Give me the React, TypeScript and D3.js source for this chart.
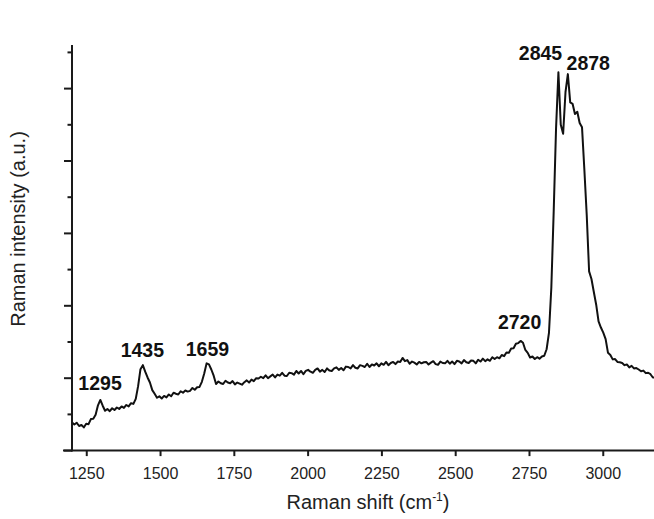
import React from 'react';
import * as d3 from 'd3';

const SHIFT_START = 1200;
const SHIFT_STEP = 8;
const intensities = [
  0.78, 0.72, 0.77, 0.68, 0.71, 0.64, 0.74, 0.73, 0.87, 0.88,
  0.99, 1.25, 1.40, 1.24, 1.10, 1.15, 1.09, 1.17, 1.12, 1.19,
  1.15, 1.22, 1.18, 1.26, 1.22, 1.31, 1.29, 1.43, 1.78, 2.25,
  2.36, 2.18, 2.02, 1.88, 1.67, 1.57, 1.46, 1.50, 1.44, 1.51,
  1.47, 1.55, 1.50, 1.60, 1.57, 1.55, 1.64, 1.60, 1.66, 1.63,
  1.65, 1.73, 1.68, 1.75, 1.76, 1.90, 2.13, 2.41, 2.38, 2.24,
  2.07, 1.84, 1.91, 1.86, 1.84, 1.93, 1.88, 1.86, 1.92, 1.83,
  1.88, 1.85, 1.82, 1.89, 1.94, 1.88, 1.96, 1.92, 2.00, 1.99,
  2.04, 2.00, 2.08, 2.00, 2.05, 2.10, 2.02, 2.10, 2.07, 2.15,
  2.07, 2.06, 2.15, 2.14, 2.10, 2.20, 2.13, 2.20, 2.11, 2.20,
  2.23, 2.18, 2.15, 2.23, 2.27, 2.18, 2.23, 2.17, 2.27, 2.21,
  2.20, 2.27, 2.30, 2.23, 2.28, 2.22, 2.32, 2.31, 2.27, 2.36,
  2.29, 2.27, 2.36, 2.34, 2.31, 2.40, 2.31, 2.38, 2.35, 2.41,
  2.33, 2.41, 2.37, 2.45, 2.36, 2.42, 2.45, 2.39, 2.46, 2.45,
  2.56, 2.47, 2.50, 2.40, 2.46, 2.43, 2.38, 2.45, 2.41, 2.44,
  2.45, 2.38, 2.43, 2.47, 2.39, 2.37, 2.46, 2.42, 2.41, 2.48,
  2.40, 2.46, 2.39, 2.48, 2.46, 2.41, 2.50, 2.44, 2.42, 2.49,
  2.48, 2.41, 2.51, 2.46, 2.54, 2.47, 2.52, 2.48, 2.58, 2.53,
  2.58, 2.55, 2.64, 2.61, 2.71, 2.70, 2.82, 2.83, 2.95, 2.97,
  3.03, 2.98, 2.78, 2.70, 2.57, 2.60, 2.53, 2.58, 2.54, 2.60,
  2.62, 2.80, 3.25, 4.50, 6.60, 8.90, 10.45, 9.00, 8.75, 9.90,
  10.40, 9.62, 9.58, 9.30, 9.36, 9.05, 8.93, 7.75, 6.50, 4.95,
  4.74, 4.38, 4.03, 3.57, 3.40, 3.26, 3.08, 2.70, 2.64, 2.52,
  2.53, 2.45, 2.44, 2.42, 2.36, 2.38, 2.30, 2.34, 2.27, 2.28,
  2.24, 2.19, 2.21, 2.14, 2.15, 2.11, 2.02, 2.02, 1.95, 1.98, 1.92,
];

const xTicks = [1250, 1500, 1750, 2000, 2250, 2500, 2750, 3000];
const yMajorTicks = [0, 2, 4, 6, 8, 10];
const yMinorTicks = [1, 3, 5, 7, 9, 11];
const peakLabels = ['1295', '1435', '1659', '2720', '2845', '2878'];
const peakShifts = [1295, 1435, 1659, 2720, 2845, 2878];

// label placement relative to the peak top (layout only)
const labelOffsets: [number, number][] = [
  [0, -10], [1, -8], [0, -7], [-1, -12], [-17, -12], [21, -4],
];

const FONT = 'Arial, "Liberation Sans", Helvetica, sans-serif';

export default function App() {
  const W = 654;
  const H = 519;
  const x = d3.scaleLinear().domain([1200, 3200]).range([72, 662.3]);
  const y = d3.scaleLinear().domain([0, 11]).range([450.6, 52.4]);
  const axisTop = 45;

  const points: [number, number][] = intensities.map((v, i) => [SHIFT_START + i * SHIFT_STEP, v]);
  const line = d3
    .line<[number, number]>()
    .x((d) => x(d[0]))
    .y((d) => y(d[1]));

  const peakValue = (s: number) => {
    let best = 0;
    points.forEach((p) => {
      if (Math.abs(p[0] - s) <= 8 && p[1] > best) best = p[1];
    });
    return best;
  };

  const axisColor = '#1a1a1a';
  const x0 = x(1200);
  const yBase = y(0);

  return (
    <svg
      width={W}
      height={H}
      style={{ position: 'absolute', left: 0, top: 0, background: '#fff' }}
      fontFamily={FONT}
    >
      <rect width={W} height={H} fill="#fff" />
      <defs>
        <clipPath id="plotclip">
          <rect x={x0} y={0} width={W - x0} height={yBase} />
        </clipPath>
      </defs>

      {/* spectrum */}
      <path
        d={line(points) || ''}
        fill="none"
        stroke="#111"
        strokeWidth={2}
        strokeLinejoin="round"
        clipPath="url(#plotclip)"
      />

      {/* y axis */}
      <line x1={x0} x2={x0} y1={axisTop} y2={yBase + 1} stroke={axisColor} strokeWidth={2} />
      {yMajorTicks.map((t) => (
        <line key={'ym' + t} x1={x0 - 8} x2={x0} y1={y(t)} y2={y(t)} stroke={axisColor} strokeWidth={2} />
      ))}
      {yMinorTicks.map((t) => (
        <line key={'yn' + t} x1={x0 - 4.5} x2={x0} y1={y(t)} y2={y(t)} stroke={axisColor} strokeWidth={2} />
      ))}

      {/* x axis */}
      <line x1={63} x2={W} y1={yBase} y2={yBase} stroke={axisColor} strokeWidth={2} />
      {xTicks.map((t) => (
        <g key={'xt' + t}>
          <line x1={x(t)} x2={x(t)} y1={yBase} y2={yBase + 5.5} stroke={axisColor} strokeWidth={2} />
          <text x={x(t)} y={479} textAnchor="middle" fontSize={16} fill="#222">
            {t}
          </text>
        </g>
      ))}

      {/* axis titles */}
      <text x={368} y={509} textAnchor="middle" fontSize={20} fill="#222">
        Raman shift (cm
        <tspan dy={-8} fontSize={12}>-1</tspan>
        <tspan dy={8}>)</tspan>
      </text>
      <text
        transform={`translate(25,229) rotate(-90)`}
        textAnchor="middle"
        fontSize={20}
        fill="#222"
      >
        Raman intensity (a.u.)
      </text>

      {/* peak labels */}
      {peakLabels.map((lab, i) => {
        const s = peakShifts[i];
        const [dx, dy] = labelOffsets[i];
        return (
          <text
            key={lab}
            x={x(s) + dx}
            y={y(peakValue(s)) + dy}
            textAnchor="middle"
            fontSize={19.5}
            fontWeight="bold"
            fill="#111"
          >
            {lab}
          </text>
        );
      })}
    </svg>
  );
}
